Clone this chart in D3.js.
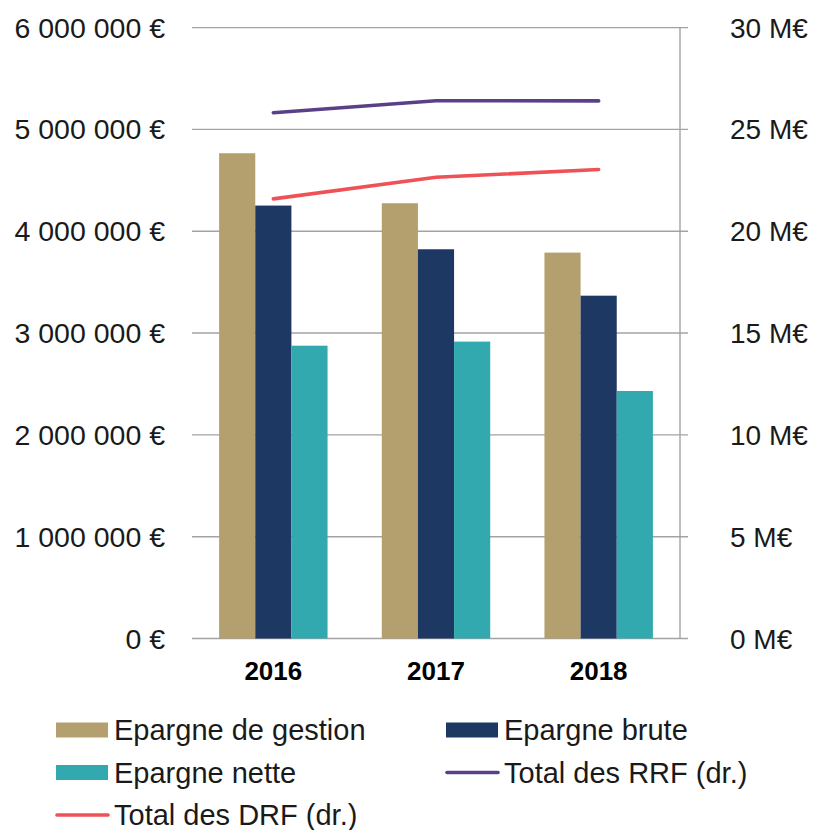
<!DOCTYPE html>
<html>
<head>
<meta charset="utf-8">
<script src="https://cdn.jsdelivr.net/npm/d3@7"></script>
<style>
  body { margin: 0; background: #fff; }
  svg { font-family: "Liberation Sans", Arial, sans-serif; }
</style>
</head>
<body>
<svg id="chart" width="815" height="830"></svg>
<script>
// data
var years = ["2016", "2017", "2018"];
var epargneGestion = [4766000, 4275000, 3790000];
var epargneBrute = [4252000, 3823000, 3367000];
var epargneNette = [2876000, 2916000, 2431000];
var totalRRF = [25820000, 26410000, 26400000];
var totalDRF = [21590000, 22650000, 23030000];
var leftTicks = [0, 1000000, 2000000, 3000000, 4000000, 5000000, 6000000];
var rightTicks = [0, 5000000, 10000000, 15000000, 20000000, 25000000, 30000000];

var barSeries = [
    {name: "Epargne de gestion", values: epargneGestion, color: "#b4a06e"},
    {name: "Epargne brute", values: epargneBrute, color: "#1e3864"},
    {name: "Epargne nette", values: epargneNette, color: "#31a9ae"}
];
var lineSeries = [
    {name: "Total des RRF (dr.)", values: totalRRF, color: "#5a4187"},
    {name: "Total des DRF (dr.)", values: totalDRF, color: "#ee5256"}
];

var svg = d3.select("#chart");
var plotLeft = 192, plotRight = 680, plotTop = 27.6, plotBottom = 638.5;

var x = d3.scaleBand().domain(years).range([plotLeft, plotRight]).padding(0);
var barW = x.bandwidth() / 4.5;
var y = d3.scaleLinear().domain([0, 6000000]).range([plotBottom, plotTop]);
var y2 = d3.scaleLinear().domain([0, 30000000]).range([plotBottom, plotTop]);

var leftFormat = function(d){ return d3.format(",")(d).replace(/,/g, " ") + " €"; };
var rightFormat = function(d){ return (d / 1000000) + " M€"; };

// gridlines
svg.append("g").selectAll("line")
    .data(leftTicks)
    .enter()
    .append("line")
    .attr("x1", plotLeft)
    .attr("x2", plotRight + 8)
    .attr("y1", function(d){ return y(d); })
    .attr("y2", function(d){ return y(d); })
    .attr("stroke", "#a3a3a3")
    .attr("stroke-width", 1.4);

// right axis line
svg.append("line")
    .attr("x1", plotRight).attr("x2", plotRight)
    .attr("y1", plotTop).attr("y2", plotBottom)
    .attr("stroke", "#a3a3a3")
    .attr("stroke-width", 1.4);

// bars
barSeries.forEach(function(s, si){
    svg.append("g").selectAll("rect")
        .data(s.values)
        .enter()
        .append("rect")
        .attr("x", function(d, i){ return x(years[i]) + x.bandwidth() / 6 + si * barW; })
        .attr("width", barW)
        .attr("y", function(d){ return y(d); })
        .attr("height", function(d){ return y(0) - y(d); })
        .attr("fill", s.color);
});

// lines on right axis
var line = d3.line()
    .x(function(d, i){ return x(years[i]) + x.bandwidth() / 2; })
    .y(function(d){ return y2(d); });

lineSeries.forEach(function(s){
    svg.append("path")
        .datum(s.values)
        .attr("d", line)
        .attr("fill", "none")
        .attr("stroke", s.color)
        .attr("stroke-width", 3.6)
        .attr("stroke-linecap", "round");
});

// left axis labels
svg.append("g").selectAll("text")
    .data(leftTicks)
    .enter()
    .append("text")
    .attr("x", 165)
    .attr("y", function(d){ return y(d) + 10; })
    .attr("text-anchor", "end")
    .attr("font-size", "28.5px")
    .attr("fill", "#1a1a1a")
    .text(leftFormat);

// right axis labels
svg.append("g").selectAll("text")
    .data(rightTicks)
    .enter()
    .append("text")
    .attr("x", 730)
    .attr("y", function(d){ return y2(d) + 10; })
    .attr("font-size", "28px")
    .attr("fill", "#1a1a1a")
    .text(rightFormat);

// year labels
svg.append("g").selectAll("text")
    .data(years)
    .enter()
    .append("text")
    .attr("x", function(d){ return x(d) + x.bandwidth() / 2; })
    .attr("y", 680)
    .attr("text-anchor", "middle")
    .attr("font-size", "26px")
    .attr("font-weight", "bold")
    .attr("fill", "#000")
    .text(function(d){ return d; });

// legend
var legendItems = [
    {name: barSeries[0].name, color: barSeries[0].color, type: "rect", col: 0, row: 0},
    {name: barSeries[1].name, color: barSeries[1].color, type: "rect", col: 1, row: 0},
    {name: barSeries[2].name, color: barSeries[2].color, type: "rect", col: 0, row: 1},
    {name: lineSeries[0].name, color: lineSeries[0].color, type: "line", col: 1, row: 1},
    {name: lineSeries[1].name, color: lineSeries[1].color, type: "line", col: 0, row: 2}
];
var colX = [56, 446];

var legend = svg.append("g").selectAll("g")
    .data(legendItems)
    .enter()
    .append("g")
    .attr("transform", function(d){ return "translate(" + colX[d.col] + "," + (740 + d.row * 42.5) + ")"; });

legend.filter(function(d){ return d.type == "rect"; })
    .append("rect")
    .attr("x", 0).attr("y", -17.5)
    .attr("width", 52).attr("height", 15)
    .attr("fill", function(d){ return d.color; });

legend.filter(function(d){ return d.type == "line"; })
    .append("line")
    .attr("x1", 1).attr("x2", 52)
    .attr("y1", -10).attr("y2", -10)
    .attr("stroke", function(d){ return d.color; })
    .attr("stroke-width", 3.6)
    .attr("stroke-linecap", "round");

legend.append("text")
    .attr("x", 58)
    .attr("y", 0)
    .attr("font-size", "29px")
    .attr("fill", "#1a1a1a")
    .text(function(d){ return d.name; });
</script>
</body>
</html>
